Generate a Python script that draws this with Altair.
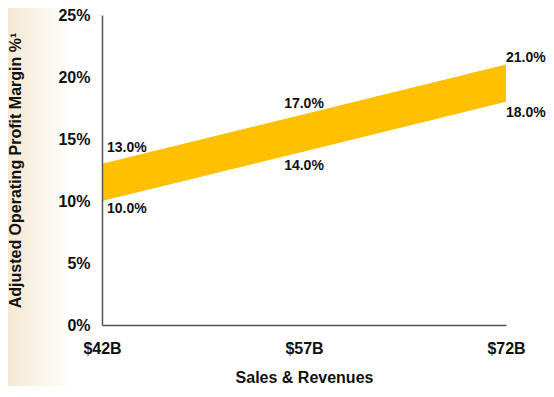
import altair as alt
import pandas as pd

sales = [42, 57, 72]
low = [10.0, 14.0, 18.0]
high = [13.0, 17.0, 21.0]
pos = ["left", "mid", "right"]

df = pd.DataFrame({"sales": sales, "low": low, "high": high, "pos": pos})
df["low_lbl"] = df["low"].map(lambda v: f"{v:.1f}%")
df["high_lbl"] = df["high"].map(lambda v: f"{v:.1f}%")

FONT = "Liberation Sans"
TXT = "#111111"

base = alt.Chart(df)

common_axis = dict(
    ticks=False,
    grid=False,
    labelFontSize=16,
    titleFontSize=16,
    labelFont=FONT,
    titleFont=FONT,
    labelFontWeight="bold",
    titleFontWeight="bold",
    labelColor=TXT,
    titleColor=TXT,
    domainColor="#555555",
    domainWidth=1.5,
    labelFlush=False,
    zindex=1,
)

x_enc = alt.X(
    "sales:Q",
    scale=alt.Scale(domain=[42, 72], nice=False, zero=False),
    axis=alt.Axis(
        values=sales,
        labelExpr="'$' + datum.value + 'B'",
        title="Sales & Revenues",
        labelPadding=15,
        titlePadding=13,
        **common_axis,
    ),
)

y_enc = alt.Y(
    "low:Q",
    scale=alt.Scale(domain=[0, 25], nice=False),
    axis=alt.Axis(
        values=[0, 5, 10, 15, 20, 25],
        labelExpr="datum.value + '%'",
        title="Adjusted Operating Profit Margin %¹",
        labelPadding=12,
        titlePadding=34,
        **common_axis,
    ),
)

bg = alt.Chart(alt.Data(values=[{"a": 1}])).mark_rect(
    color={
        "gradient": "linear",
        "x1": 0, "x2": 1, "y1": 0, "y2": 0,
        "stops": [
            {"offset": 0, "color": "#f6e8d3"},
            {"offset": 1, "color": "#ffffff"},
        ],
    }
).encode(x=alt.value(-94), x2=alt.value(-30), y=alt.value(-7), y2=alt.value(374))

band = base.mark_area(color="#FFC000", opacity=1).encode(
    x=x_enc, y=y_enc, y2="high:Q"
)


def lbl(p, field, val_field, align, dx, dy):
    return base.transform_filter(alt.datum.pos == p).mark_text(
        align=align, baseline="alphabetic", dx=dx, dy=dy, font=FONT,
        fontSize=14, fontWeight="bold", color=TXT,
    ).encode(x="sales:Q", y=f"{val_field}:Q", text=f"{field}:N")


labels = [
    lbl("left", "high_lbl", "high", "left", 5, -12),
    lbl("mid", "high_lbl", "high", "center", 0, -6),
    lbl("right", "high_lbl", "high", "left", 0, -3),
    lbl("left", "low_lbl", "low", "left", 5, 12),
    lbl("mid", "low_lbl", "low", "center", 0, 19),
    lbl("right", "low_lbl", "low", "left", 0, 15),
]

chart = alt.layer(bg, band, *labels).properties(
    width=404,
    height=310,
    autosize=alt.AutoSizeParams(type="none"),
    padding={"left": 94, "top": 7, "right": 40, "bottom": 61},
    background="white",
).configure_view(stroke=None)

chart.save("out.html", embed_options={"renderer": "svg", "actions": False})
